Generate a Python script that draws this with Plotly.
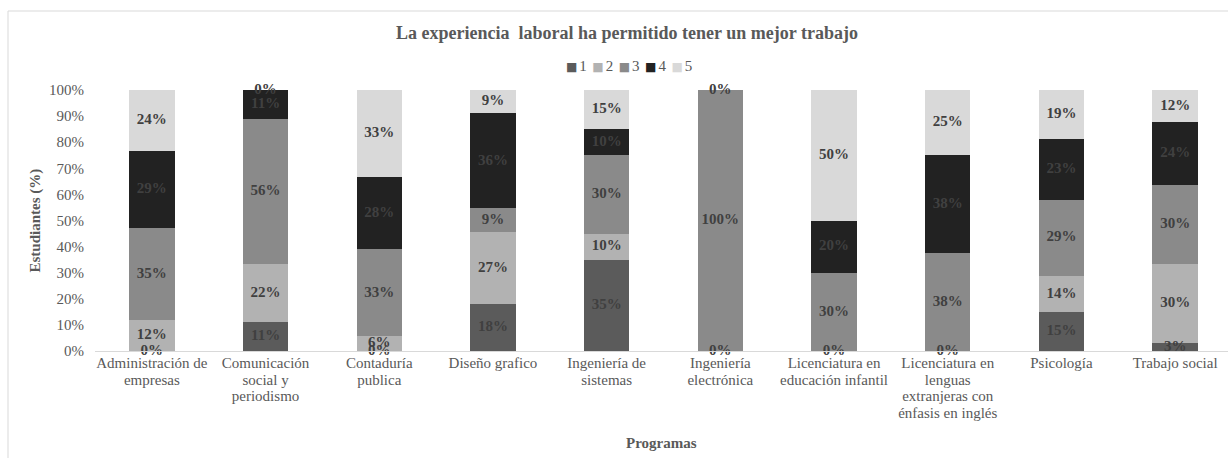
import plotly.graph_objects as go

categories = [
    "Administración de<br>empresas",
    "Comunicación<br>social y<br>periodismo",
    "Contaduría<br>publica",
    "Diseño grafico",
    "Ingeniería de<br>sistemas",
    "Ingeniería<br>electrónica",
    "Licenciatura en<br>educación infantil",
    "Licenciatura en<br>lenguas<br>extranjeras con<br>énfasis en inglés",
    "Psicología",
    "Trabajo social",
]

series_names = ["1", "2", "3", "4", "5"]
s1 = [0, 11.1, 0, 18.2, 35, 0, 0, 0, 14.8, 3.0]
s2 = [11.8, 22.2, 5.6, 27.3, 10, None, None, None, 14.1, 30.3]
s3 = [35.3, 55.6, 33.3, 9.1, 30, 100, 30, 37.5, 29.0, 30.3]
s4 = [29.4, 11.1, 27.8, 36.4, 10, None, 20, 37.5, 23.4, 24.2]
s5 = [23.5, 0, 33.3, 9.1, 15, 0, 50, 25, 18.7, 12.1]
series_values = [s1, s2, s3, s4, s5]
colors = ["#5b5b5b", "#b2b2b2", "#8a8a8a", "#222222", "#d9d9d9"]

FONT = "Liberation Serif, Times New Roman, serif"
GRAY = "#595959"
LABEL = "#404040"

fig = go.Figure()
for name, vals, col in zip(series_names, series_values, colors):
    fig.add_trace(go.Bar(
        x=categories, y=[v if v is not None else 0 for v in vals], name=name,
        marker=dict(color=col, line=dict(width=0)),
        hoverinfo="skip", showlegend=False,
    ))

# data labels at segment centres
base = [0.0] * len(categories)
for name, vals in zip(series_names, series_values):
    xs, ys, ts = [], [], []
    for i, v in enumerate(vals):
        if v is None:
            continue
        xs.append(categories[i])
        ys.append(base[i] + v / 2)
        ts.append(f"{v:.0f}%")
        base[i] += v
    fig.add_trace(go.Scatter(
        x=xs, y=ys, text=ts, mode="text", showlegend=False, hoverinfo="skip",
        textfont=dict(family=FONT, size=15, color=LABEL, weight="bold"),
        cliponaxis=False,
    ))

W, H = 1228, 458
L, R, T, B = 95, 0, 90, 107
pw, ph = W - L - R, H - T - B

def px(x):
    return (x - L) / pw

def py(y):
    return (H - B - y) / ph

# tick labels: 15px glyphs with compact (Excel-like) line spacing
ticktext = ["<br>".join(f'<span style="font-size:15px">{ln}</span>' for ln in c.split("<br>"))
            for c in categories]

sep = '<span style="font-size:22px"> </span>'
gap = '<span style="font-size:8px"> </span>'
legend_text = sep.join(
    f'<span style="color:{c};font-family:DejaVu Sans;font-size:12px">■</span>{gap}{n}'
    for n, c in zip(series_names, colors)
)

fig.update_layout(
    width=W, height=H,
    margin=dict(l=L, r=R, t=T, b=B, autoexpand=False),
    barmode="stack", bargap=0.6,
    plot_bgcolor="white", paper_bgcolor="white",
    font=dict(family=FONT, size=15, color=GRAY),
    title=dict(
        text="<b>La experiencia  laboral ha permitido tener un mejor trabajo</b>",
        x=627 / W, xref="container", xanchor="center",
        y=1 - 33 / H, yref="container", yanchor="middle",
        font=dict(family=FONT, size=18, color=GRAY),
    ),
    showlegend=False,
    xaxis=dict(
        type="category", range=[-0.5, -0.5 + pw / 113.7],
        showline=True, linecolor="#d9d9d9", linewidth=1,
        showgrid=False, ticks="", automargin=False,
        tickmode="array", tickvals=categories, ticktext=ticktext,
        tickfont=dict(family=FONT, size=13, color=GRAY),
        tickangle=0,
    ),
    yaxis=dict(
        range=[0, 100], dtick=10, ticksuffix="%", showgrid=False,
        zeroline=False, showline=False, ticks="", automargin=False,
        ticklabelstandoff=10,
        tickfont=dict(family=FONT, size=15, color=GRAY),
    ),
    annotations=[
        dict(text="<b>Estudiantes (%)</b>", xref="paper", yref="paper",
             x=px(35), y=0.5, textangle=-90, showarrow=False,
             xanchor="center", yanchor="middle",
             font=dict(family=FONT, size=15, color=GRAY)),
        dict(text="<b>Programas</b>", xref="paper", yref="paper",
             x=0.5, y=py(443), showarrow=False,
             xanchor="center", yanchor="middle",
             font=dict(family=FONT, size=15, color=GRAY)),
        dict(text=legend_text, xref="paper", yref="paper",
             x=px(629), y=py(63), showarrow=False,
             xanchor="center", yanchor="middle",
             font=dict(family=FONT, size=15, color=GRAY)),
    ],
    shapes=[
        dict(type="rect", xref="paper", yref="paper",
             x0=px(8), x1=px(1260), y0=py(480), y1=py(11),
             line=dict(color="#d9d9d9", width=1), layer="below"),
    ],
)

fig.write_html(
    "out.html",
    config={"displayModeBar": False},
    post_script="document.body.style.margin='0';document.body.style.padding='0';"
                "document.documentElement.style.overflow='hidden';",
)
